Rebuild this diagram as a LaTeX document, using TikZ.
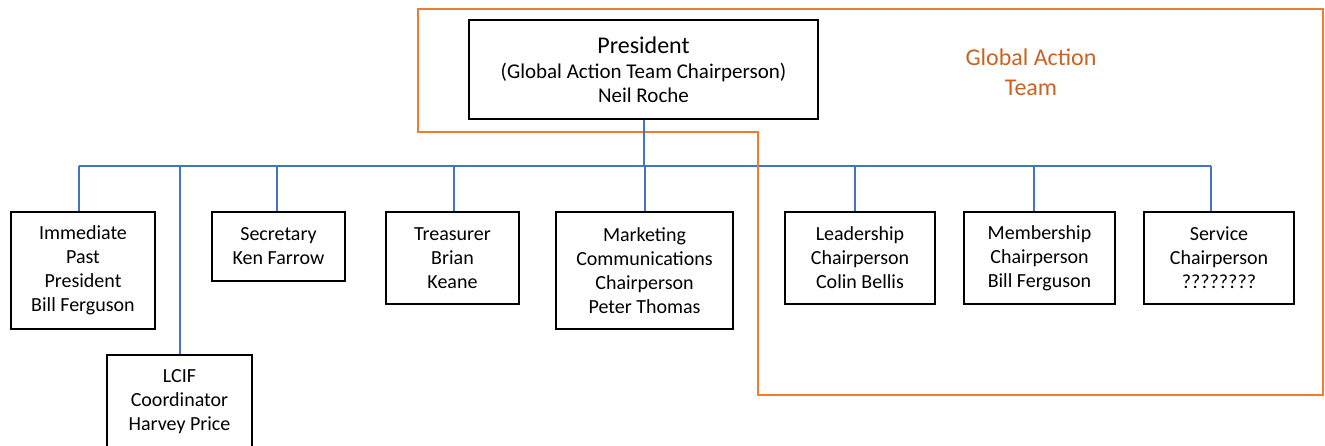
\documentclass[tikz,border=0pt]{standalone}
\usepackage{fontspec}
\setmainfont{Carlito}
\definecolor{conblue}{HTML}{4472C4}
\definecolor{teamorange}{HTML}{ED7D31}
\definecolor{teamtext}{RGB}{200,100,35}
\begin{document}
\begin{tikzpicture}[x=1pt,y=-1pt,
  box/.style={draw=black, line width=2.6pt, inner sep=0pt, align=center,
    font=\fontsize{20}{24}\selectfont},
  conn/.style={draw=conblue, line width=2pt},
  team/.style={draw=teamorange, line width=2.5pt}]
\clip (0,0) rectangle (1325,445);
\fill[white] (0,0) rectangle (1325,445);
% boxes
\node[box, minimum width=349, minimum height=99] (pres) at (643.5,69.5)
  {{\fontsize{24}{27}\selectfont President}\\[1pt]
   {\fontsize{21}{25}\selectfont (Global Action Team Chairperson)}\\
   {\fontsize{21}{25}\selectfont Neil Roche}};
\node[box, minimum width=144, minimum height=117] (ipp) at (83,270.5)
  {Immediate\\Past\\President\\Bill Ferguson};
\node[box, minimum width=145, minimum height=94] (lcif) at (179.5,402)
  {LCIF\\Coordinator\\Harvey Price};
\node[box, minimum width=133, minimum height=69] (sec) at (278.5,246.5)
  {Secretary\\Ken Farrow};
\node[box, minimum width=133, minimum height=92] (tre) at (452.5,258)
  {Treasurer\\Brian\\Keane};
\node[box, minimum width=177, minimum height=117] (mkt) at (644.5,270.5)
  {Marketing\\Communications\\Chairperson\\Peter Thomas};
\node[box, minimum width=150, minimum height=92] (lead) at (860,258)
  {Leadership\\Chairperson\\Colin Bellis};
\node[box, minimum width=151, minimum height=92] (mem) at (1039.5,258)
  {Membership\\Chairperson\\Bill Ferguson};
\node[box, minimum width=150, minimum height=92] (svc) at (1219,258)
  {Service\\Chairperson\\????????};
% connectors
\coordinate (bus) at (644,166);
\draw[conn] ([xshift=-4pt]ipp.north |- bus) -- ([xshift=-8pt]svc.north |- bus);
\draw[conn] ([xshift=-4pt]ipp.north) -- ([xshift=-4pt]ipp.north |- bus);
\draw[conn] (lcif.north) -- (lcif.north |- bus);
\draw[conn] ([xshift=-1.5pt]sec.north) -- ([xshift=-1.5pt]sec.north |- bus);
\draw[conn] ([xshift=1.5pt]tre.north) -- ([xshift=1.5pt]tre.north |- bus);
\draw[conn] (mkt.north) -- (mkt.north |- bus);
\draw[conn] ([xshift=-5pt]lead.north) -- ([xshift=-5pt]lead.north |- bus);
\draw[conn] ([xshift=-5.5pt]mem.north) -- ([xshift=-5.5pt]mem.north |- bus);
\draw[conn] ([xshift=-8pt]svc.north) -- ([xshift=-8pt]svc.north |- bus);
% team outline
\draw[team] (418,9) -- (1323,9) -- (1323,395) -- (758,395) -- (758,132) -- (418,132) -- cycle;
\draw[conn] (pres.south) -- (pres.south |- bus);
\node[text=teamtext, align=center, font=\fontsize{24}{30}\selectfont] (gat) at (1031,72)
  {Global Action\\Team};
\end{tikzpicture}
\end{document}
